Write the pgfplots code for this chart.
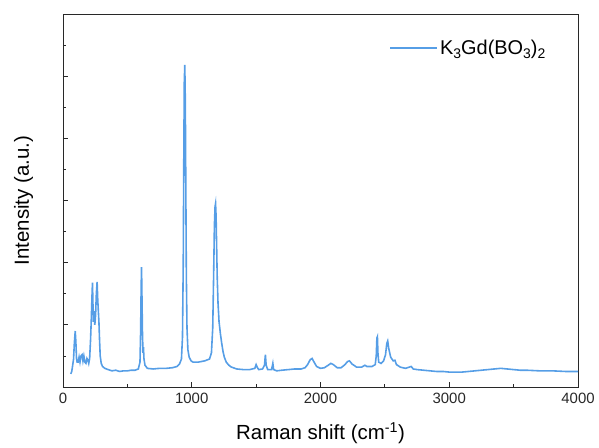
\documentclass[border=0pt]{standalone}
\usepackage{pgfplots}
\pgfplotsset{compat=1.18}
\usepackage{fontspec}
\setmainfont{Liberation Sans}
\definecolor{spec}{RGB}{86,158,230}
\definecolor{axc}{RGB}{40,40,40}
\pgfplotstableread{
x y
60 0.21
68 0.25
76 0.36
82 0.45
88 0.70
95 0.90
100 0.72
105 0.46
110 0.40
118 0.40
125 0.48
132 0.40
140 0.50
148 0.52
155 0.42
162 0.50
170 0.40
178 0.38
186 0.46
194 0.43
200 0.38
207 0.46
214 0.76
220 1.10
225 1.45
229 1.68
233 1.30
237 1.05
242 1.22
247 1.00
253 1.15
259 1.50
265 1.69
270 1.40
275 1.20
279 1.05
284 0.75
289 0.50
297 0.38
307 0.33
325 0.30
350 0.28
380 0.26
410 0.27
440 0.25
470 0.26
500 0.26
530 0.27
560 0.27
585 0.29
598 0.40
603 0.90
607 1.60
610 1.93
613 1.50
617 0.90
621 0.55
625 0.64
629 0.45
637 0.35
655 0.30
700 0.29
750 0.30
800 0.30
850 0.31
885 0.33
905 0.37
920 0.45
928 0.80
934 2.00
938 3.60
942 4.90
946 5.18
950 4.60
954 3.20
958 1.80
963 0.95
970 0.60
980 0.48
995 0.42
1010 0.40
1050 0.40
1100 0.42
1138 0.45
1153 0.55
1163 0.95
1170 1.80
1176 2.60
1181 2.90
1185 2.95
1189 2.75
1193 2.30
1198 1.75
1204 1.35
1212 1.05
1223 0.85
1233 0.70
1243 0.57
1253 0.48
1268 0.40
1288 0.35
1308 0.32
1350 0.29
1400 0.28
1450 0.28
1490 0.30
1500 0.36
1508 0.32
1520 0.28
1550 0.29
1565 0.35
1572 0.52
1578 0.35
1590 0.28
1620 0.28
1630 0.38
1636 0.28
1660 0.26
1700 0.27
1750 0.28
1800 0.29
1850 0.29
1880 0.31
1900 0.36
1920 0.44
1935 0.46
1950 0.40
1970 0.33
2000 0.30
2030 0.31
2060 0.35
2080 0.38
2100 0.36
2130 0.31
2160 0.31
2190 0.36
2210 0.41
2225 0.42
2245 0.37
2280 0.32
2320 0.32
2345 0.35
2360 0.33
2400 0.33
2425 0.36
2433 0.50
2438 0.79
2442 0.81
2446 0.55
2452 0.40
2470 0.38
2490 0.42
2505 0.52
2515 0.70
2522 0.74
2530 0.62
2545 0.48
2565 0.42
2578 0.43
2590 0.36
2620 0.32
2660 0.30
2690 0.32
2705 0.33
2720 0.29
2750 0.28
2800 0.27
2850 0.26
2900 0.25
2950 0.25
3000 0.24
3050 0.24
3100 0.24
3150 0.25
3200 0.26
3250 0.27
3300 0.28
3350 0.29
3400 0.30
3450 0.29
3500 0.28
3550 0.27
3600 0.27
3700 0.26
3800 0.26
3900 0.25
4000 0.25
}\spectrum
\begin{document}
\begin{tikzpicture}
\begin{axis}[
  scale only axis,
  width=515bp, height=373bp,
  xmin=0, xmax=4000, ymin=0, ymax=6,
  xtick={0,1000,2000,3000,4000},
  minor x tick num=1,
  ytick={0,1,2,3,4,5,6},
  minor y tick num=1,
  yticklabels={},
  tick align=inside,
  xtick pos=bottom, ytick pos=left,
  major tick length=5bp, minor tick length=3bp,
  axis line style={axc, line width=0.8pt},
  every tick/.style={axc, line width=0.8pt},
  /pgf/number format/assume math mode=true,
  /pgf/number format/1000 sep={},
  tick label style={font=\fontsize{15}{17}\selectfont, text=axc},
  xticklabel style={yshift=-3bp},
  label style={font=\fontsize{20.5}{24}\selectfont},
  xlabel={Raman shift (cm\textsuperscript{-1})},
  ylabel={Intensity (a.u.)},
  xlabel style={at={(axis description cs:0.5,0)}, anchor=center, yshift=-46bp},
  ylabel style={at={(axis description cs:0,0.5)}, anchor=center, yshift=39.5bp},
  legend style={draw=none, fill=none, at={(axis cs:2535,5.45)}, anchor=west,
    font=\fontsize{20}{23}\selectfont, inner sep=0pt},
  legend cell align=left,
  legend image code/.code={\draw[#1] (0bp,0bp) -- (47bp,0bp);},
]
\addplot[spec, line width=1.6pt] table[x=x, y=y] {\spectrum};
\addlegendentry{K\raisebox{-0.4ex}{\fontsize{14}{16}\selectfont 3}Gd(BO\raisebox{-0.4ex}{\fontsize{14}{16}\selectfont 3})\raisebox{-0.4ex}{\fontsize{14}{16}\selectfont 2}}
\end{axis}
\path[use as bounding box] (-63bp,-61bp) rectangle (536bp,387bp);
\end{tikzpicture}
\end{document}
